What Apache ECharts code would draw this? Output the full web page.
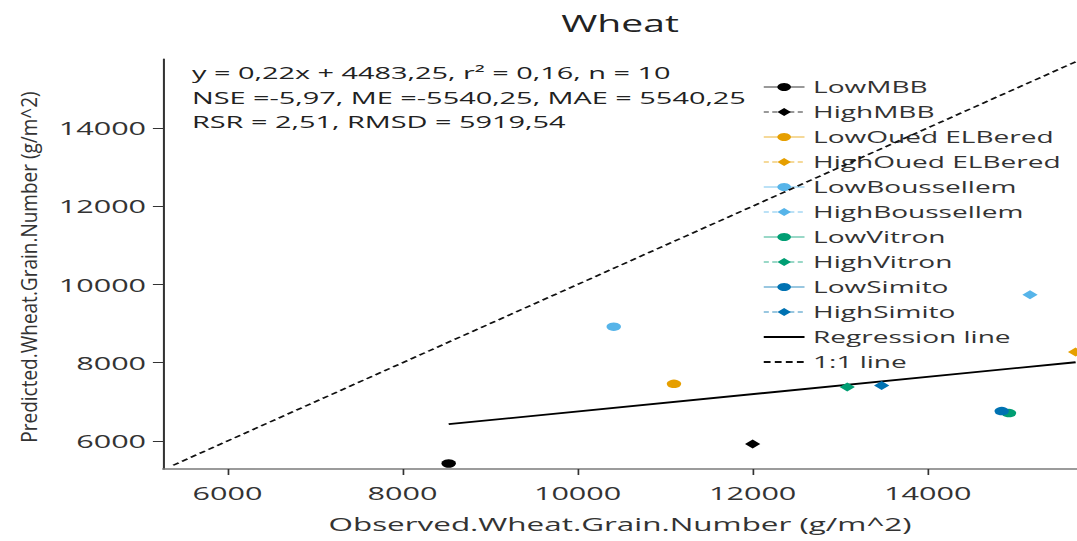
<!DOCTYPE html>
<html><head><meta charset="utf-8">
<script src="https://cdn.jsdelivr.net/npm/echarts@6/dist/echarts.min.js"></script>
<style>
html,body{margin:0;padding:0;background:#fff;overflow:hidden;}
#wrap{width:1077px;height:541px;overflow:hidden;position:relative;background:#fff;}
#chart{width:634px;height:541px;transform:scaleX(1.69874);transform-origin:0 0;}
</style></head><body><div id="wrap"><div id="chart"></div></div>
<script>
// ---- data ----
const seriesNames = ['LowMBB','HighMBB','LowOued ELBered','HighOued ELBered','LowBoussellem','HighBoussellem','LowVitron','HighVitron','LowSimito','HighSimito'];
const seriesColors = ['#000000','#000000','#E69F00','#E69F00','#56B4E9','#56B4E9','#009E73','#009E73','#0072B2','#0072B2'];
const observed  = [8527, 12000, 11101, 15690, 10413, 15169, 14929, 13081, 14846, 13474];
const predicted = [5425,  5923,  7461,  8271,  8922,  9734,  6713,  7377,  6764,  7418];
const xTicks = [6000, 8000, 10000, 12000, 14000];
const yTicks = [6000, 8000, 10000, 12000, 14000];
const oneToOneRange = [5380, 15800];
const statsLines = [
  'y = 0,22x + 4483,25, r\u00B2 = 0,16, n = 10',
  'NSE =-5,97, ME =-5540,25, MAE = 5540,25',
  'RSR = 2,51, RMSD = 5919,54'
];
const titleText = 'Wheat';
const xName = 'Observed.Wheat.Grain.Number (g/m^2)';
const yName = 'Predicted.Wheat.Grain.Number (g/m^2)';

// ---- regression from data ----
const n = observed.length;
const mx = observed.reduce((a,b)=>a+b,0)/n;
const my = predicted.reduce((a,b)=>a+b,0)/n;
let sxy = 0, sxx = 0;
for (let i=0;i<n;i++){ sxy += (observed[i]-mx)*(predicted[i]-my); sxx += (observed[i]-mx)**2; }
const slope = sxy/sxx, intercept = my - slope*mx;
const xMinD = Math.min(...observed), xMaxD = Math.max(...observed);
const regData = [[xMinD, intercept + slope*xMinD], [xMaxD, intercept + slope*xMaxD]];

const FONT = 'Open Sans';
const chart = echarts.init(document.getElementById('chart'), null, {renderer:'svg'});

const series = seriesNames.map((name,i)=>{
  const high = name.startsWith('High');
  return {
    name, type:'line',
    data:[[observed[i], predicted[i]]],
    symbol: high ? 'diamond' : 'circle',
    symbolSize: high ? 9 : 8.5,
    showSymbol:true,
    itemStyle:{color:seriesColors[i]},
    lineStyle:{color:seriesColors[i], width:1, type: high ? [3,2] : 'solid', opacity:0.4},
    z:5
  };
});
series.push({
  name:'Regression line', type:'line', data:regData, symbol:'none',
  lineStyle:{color:'#000', width:1.8}, itemStyle:{color:'#000'}, z:4
});
series.push({
  name:'1:1 line', type:'line', data:[[oneToOneRange[0],oneToOneRange[0]],[oneToOneRange[1],oneToOneRange[1]]], symbol:'none',
  lineStyle:{color:'#111', width:1.5, type:[4,2.5]}, itemStyle:{color:'#000'}, z:4
});

const legendData = seriesNames.map(n=>({name:n}));
legendData.push({name:'Regression line', itemStyle:{opacity:0}});
legendData.push({name:'1:1 line', itemStyle:{opacity:0}});

const plain = v => String(v);

chart.setOption({
  animation:false,
  backgroundColor:'#fff',
  textStyle:{fontFamily:FONT},
  grid:{left:96, right:0, top:59, bottom:72, containLabel:false},
  xAxis:{
    type:'value', min:5264, max:15706,
    axisLine:{show:true, onZero:false, lineStyle:{color:'#7a7a7a', width:1.5}},
    axisTick:{show:true, customValues:xTicks, length:6, lineStyle:{color:'#333', width:1}},
    axisLabel:{customValues:xTicks, formatter:plain, fontSize:18, color:'#333', margin:15, fontFamily:FONT},
    splitLine:{show:false},
    name:xName, nameLocation:'middle', nameGap:45,
    nameTextStyle:{fontSize:18.5, color:'#333', fontFamily:FONT}
  },
  yAxis:{
    type:'value', min:5284, max:15762,
    axisLine:{show:true, onZero:false, lineStyle:{color:'#333', width:1.2}},
    axisTick:{show:true, customValues:yTicks, length:6, lineStyle:{color:'#333', width:1}},
    axisLabel:{customValues:yTicks, formatter:plain, fontSize:18, color:'#333', margin:10, fontFamily:FONT},
    splitLine:{show:false}
  },
  legend:{
    orient:'vertical', left:448.6, top:77, padding:0,
    itemWidth:24, itemHeight:10, itemGap:5,
    textStyle:{fontSize:16.5, lineHeight:20, color:'#333', fontFamily:FONT},
    data:legendData
  },
  graphic:[
    {type:'text', x:365, y:23, style:{text:titleText, fontSize:23, fill:'#222', align:'center', verticalAlign:'middle', fontFamily:FONT}},
    {type:'text', x:16.5, y:267, rotation:Math.PI/2, scaleY:0.7,
      style:{text:yName, fontSize:19, fill:'#333', align:'center', verticalAlign:'middle', fontFamily:FONT}},
    {type:'text', x:113, y:73, style:{text:statsLines[0], fontSize:17, fill:'#222', verticalAlign:'middle', fontFamily:FONT}},
    {type:'text', x:113, y:97.5, style:{text:statsLines[1], fontSize:17, fill:'#222', verticalAlign:'middle', fontFamily:FONT}},
    {type:'text', x:113, y:122, style:{text:statsLines[2], fontSize:17, fill:'#222', verticalAlign:'middle', fontFamily:FONT}}
  ],
  series
});
</script></body></html>
